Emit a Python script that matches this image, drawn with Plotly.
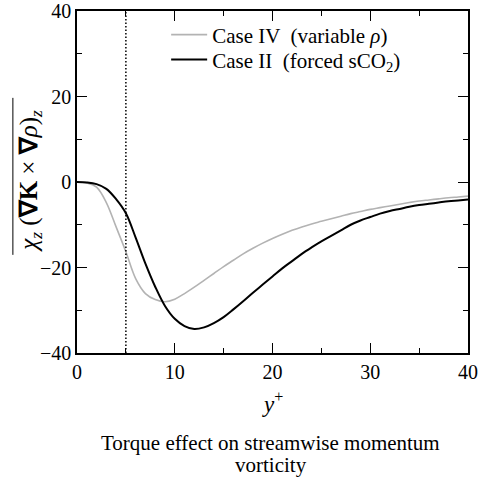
import plotly.graph_objects as go

# Data
y_plus = [0, 1, 2, 3, 4, 5, 6, 7, 8, 9, 10, 11, 12, 13, 14, 15, 16, 17, 18, 19, 20,
          21, 22, 23, 24, 25, 26, 27, 28, 29, 30, 31, 32, 33, 34, 35, 36, 37, 38, 39, 40]
case_iv = [0, -0.2, -1.2, -4.8, -10.5, -16.3, -22.6, -26.1, -27.5, -28.0, -27.4,
           -26.1, -24.6, -23.0, -21.4, -19.8, -18.3, -16.8, -15.5, -14.3, -13.2,
           -12.2, -11.3, -10.5, -9.8, -9.2, -8.6, -8.0, -7.4, -6.9, -6.4,
           -6.0, -5.6, -5.2, -4.8, -4.45, -4.2, -3.95, -3.7, -3.5, -3.3]
case_ii = [0, -0.1, -0.5, -1.6, -4.0, -7.3, -13.0, -19.1, -24.5, -29.0, -32.0,
           -33.7, -34.4, -34.0, -33.0, -31.6, -29.8, -27.9, -25.9, -24.0, -22.1,
           -20.2, -18.5, -16.8, -15.3, -13.9, -12.6, -11.3, -10.0, -9.0, -8.2,
           -7.4, -6.8, -6.3, -5.8, -5.4, -5.1, -4.8, -4.5, -4.3, -4.1]
marker_x = 5
x_ticks = [0, 10, 20, 30, 40]
y_ticks = [-40, -20, 0, 20, 40]
y_tick_text = ["\u221240", "\u221220", "0", "20", "40"]

FONT = "Liberation Serif"

fig = go.Figure()
fig.add_trace(go.Scatter(
    x=y_plus, y=case_iv, mode="lines", name="Case IV  (variable <i>\u03c1</i>)",
    legend="legend",
    line=dict(color="#b3b3b3", width=1.6, shape="spline", smoothing=1.0)))
fig.add_trace(go.Scatter(
    x=y_plus, y=case_ii, mode="lines", name="Case II  (forced sCO<sub>2</sub>)",
    legend="legend2",
    line=dict(color="#000000", width=2.0, shape="spline", smoothing=1.0)))
fig.add_trace(go.Scatter(
    x=[marker_x, marker_x], y=[-40, 40], mode="lines", showlegend=False,
    line=dict(color="#000000", width=1.5, dash="1.5px,2px")))

axis_common = dict(
    showgrid=False, zeroline=False, showline=True, linecolor="black", linewidth=1.6,
    mirror="allticks", ticks="inside", ticklen=10, tickwidth=1, tickcolor="black",
    tickfont=dict(family=FONT, size=20, color="black"), automargin=False,
    ticklabeloverflow="allow",
)
fig.update_xaxes(range=[0, 40], tickvals=x_ticks,
                 minor=dict(dtick=5, ticks="inside", ticklen=5, tickwidth=1, tickcolor="black"),
                 **axis_common)
fig.update_yaxes(range=[-40, 40], tickvals=y_ticks, ticktext=y_tick_text,
                 minor=dict(dtick=10, ticks="inside", ticklen=5, tickwidth=1, tickcolor="black"),
                 **axis_common)

legend_common = dict(xanchor="left", yanchor="middle", itemwidth=36,
                     bgcolor="rgba(0,0,0,0)", font=dict(family=FONT, size=21))

fig.update_layout(
    width=479, height=477,
    margin=dict(l=77, r=11, t=11, b=124),
    plot_bgcolor="white", paper_bgcolor="white",
    font=dict(family=FONT, size=20, color="black"),
    legend=dict(x=0.228, y=0.930, **legend_common),
    legend2=dict(x=0.228, y=0.857, **legend_common),
    annotations=[
        dict(text="<i>y</i><sup>+</sup>", xref="paper", yref="paper", x=0.5, y=-0.145,
             xanchor="center", yanchor="middle", showarrow=False,
             font=dict(family=FONT, size=23)),
        dict(text="Torque effect on streamwise momentum", xref="paper", yref="paper",
             x=0.495, y=-0.263, xanchor="center", yanchor="middle", showarrow=False,
             font=dict(family=FONT, size=21)),
        dict(text="vorticity", xref="paper", yref="paper",
             x=0.495, y=-0.327, xanchor="center", yanchor="middle", showarrow=False,
             font=dict(family=FONT, size=21)),
        dict(text="<i>\u03c7</i><sub><i>z</i></sub> (<b>\u2207K</b> \u00d7 <b>\u2207</b><i>\u03c1</i>)<sub><i>z</i></sub>",
             xref="paper", yref="paper", x=-0.119, y=0.505, textangle=-90,
             xanchor="center", yanchor="middle", showarrow=False,
             font=dict(family=FONT, size=25)),
    ],
    shapes=[
        dict(type="line", xref="paper", yref="paper", x0=-0.164, x1=-0.164,
             y0=0.287, y1=0.746, line=dict(color="black", width=1)),
    ],
)

# remove the browser's default 8px body margin so the figure sits at the page origin
fig.write_html("out.html", config={"displayModeBar": False},
               post_script="document.body.style.margin='0';")
